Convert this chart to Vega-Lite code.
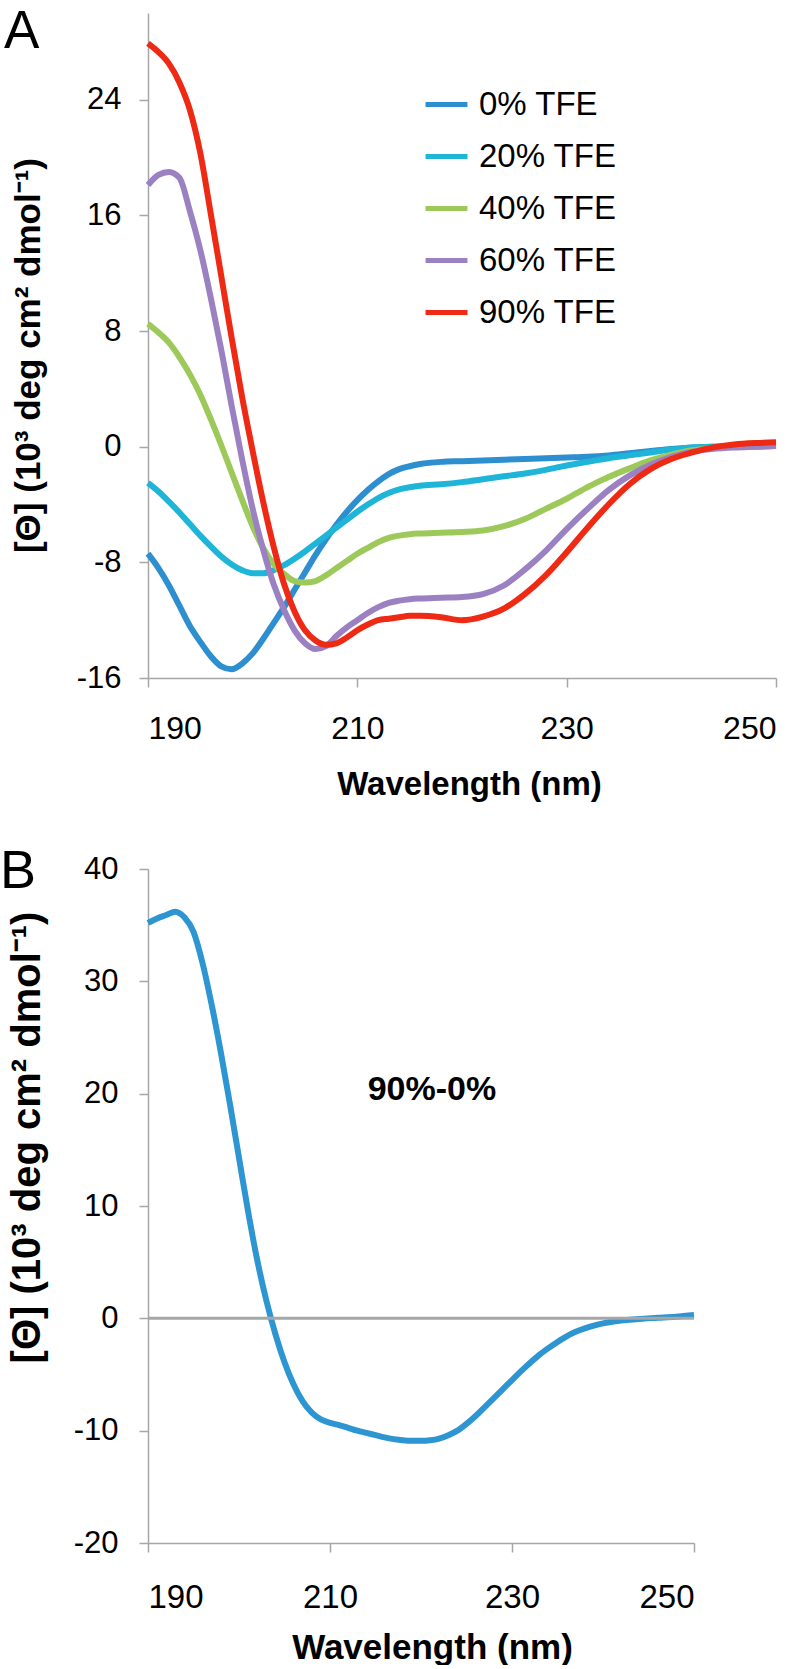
{
  "$schema": "https://vega.github.io/schema/vega-lite/v6.json",
  "background": "white",
  "padding": {"left": 0, "top": 6, "right": 0, "bottom": 0},
  "config": {
    "view": {"stroke": null},
    "font": "Liberation Sans",
    "axis": {
      "grid": false,
      "domainColor": "#a6a6a6",
      "domainWidth": 1.5,
      "tickColor": "#a6a6a6",
      "tickWidth": 1.5,
      "tickSize": 9,
      "labelColor": "#000000",
      "titleColor": "#000000",
      "labelFont": "Liberation Sans",
      "titleFont": "Liberation Sans",
      "titleFontWeight": "bold",
      "labelExpr": "replace(datum.label, '−', '-')"
    }
  },
  "columns": 1,
  "align": "none",
  "spacing": 44,
  "concat": [
    {
      "width": 628,
      "height": 665,
      "layer": [
        {
          "data": {"values": [
            {"series":"0% TFE","wavelength":190,"theta":-7.4},{"series":"0% TFE","wavelength":191,"theta":-8.4},{"series":"0% TFE","wavelength":192,"theta":-9.6},{"series":"0% TFE","wavelength":193,"theta":-11.0},{"series":"0% TFE","wavelength":194,"theta":-12.4},{"series":"0% TFE","wavelength":195,"theta":-13.5},{"series":"0% TFE","wavelength":196,"theta":-14.5},{"series":"0% TFE","wavelength":197,"theta":-15.2},{"series":"0% TFE","wavelength":198,"theta":-15.4},{"series":"0% TFE","wavelength":199,"theta":-15.0},{"series":"0% TFE","wavelength":200,"theta":-14.3},{"series":"0% TFE","wavelength":201,"theta":-13.3},{"series":"0% TFE","wavelength":202,"theta":-12.2},{"series":"0% TFE","wavelength":203,"theta":-11.1},{"series":"0% TFE","wavelength":204,"theta":-9.9},{"series":"0% TFE","wavelength":205,"theta":-8.7},{"series":"0% TFE","wavelength":206,"theta":-7.5},{"series":"0% TFE","wavelength":207,"theta":-6.4},{"series":"0% TFE","wavelength":208,"theta":-5.4},{"series":"0% TFE","wavelength":209,"theta":-4.5},{"series":"0% TFE","wavelength":210,"theta":-3.7},{"series":"0% TFE","wavelength":211,"theta":-3.0},{"series":"0% TFE","wavelength":212,"theta":-2.4},{"series":"0% TFE","wavelength":213,"theta":-1.9},{"series":"0% TFE","wavelength":214,"theta":-1.55},{"series":"0% TFE","wavelength":215,"theta":-1.35},{"series":"0% TFE","wavelength":216,"theta":-1.2},{"series":"0% TFE","wavelength":218,"theta":-1.05},{"series":"0% TFE","wavelength":220,"theta":-1.0},{"series":"0% TFE","wavelength":222,"theta":-0.95},{"series":"0% TFE","wavelength":224,"theta":-0.9},{"series":"0% TFE","wavelength":226,"theta":-0.85},{"series":"0% TFE","wavelength":228,"theta":-0.8},{"series":"0% TFE","wavelength":230,"theta":-0.75},{"series":"0% TFE","wavelength":232,"theta":-0.7},{"series":"0% TFE","wavelength":234,"theta":-0.6},{"series":"0% TFE","wavelength":236,"theta":-0.45},{"series":"0% TFE","wavelength":238,"theta":-0.3},{"series":"0% TFE","wavelength":240,"theta":-0.15},{"series":"0% TFE","wavelength":242,"theta":-0.05},{"series":"0% TFE","wavelength":244,"theta":0.0},{"series":"0% TFE","wavelength":246,"theta":0.05},{"series":"0% TFE","wavelength":248,"theta":0.1},{"series":"0% TFE","wavelength":250,"theta":0.15},
            {"series":"20% TFE","wavelength":190,"theta":-2.5},{"series":"20% TFE","wavelength":191,"theta":-3.1},{"series":"20% TFE","wavelength":192,"theta":-3.8},{"series":"20% TFE","wavelength":193,"theta":-4.55},{"series":"20% TFE","wavelength":194,"theta":-5.35},{"series":"20% TFE","wavelength":195,"theta":-6.15},{"series":"20% TFE","wavelength":196,"theta":-6.9},{"series":"20% TFE","wavelength":197,"theta":-7.6},{"series":"20% TFE","wavelength":198,"theta":-8.15},{"series":"20% TFE","wavelength":199,"theta":-8.55},{"series":"20% TFE","wavelength":200,"theta":-8.75},{"series":"20% TFE","wavelength":201,"theta":-8.75},{"series":"20% TFE","wavelength":202,"theta":-8.55},{"series":"20% TFE","wavelength":203,"theta":-8.2},{"series":"20% TFE","wavelength":204,"theta":-7.75},{"series":"20% TFE","wavelength":205,"theta":-7.25},{"series":"20% TFE","wavelength":206,"theta":-6.7},{"series":"20% TFE","wavelength":207,"theta":-6.15},{"series":"20% TFE","wavelength":208,"theta":-5.6},{"series":"20% TFE","wavelength":209,"theta":-5.05},{"series":"20% TFE","wavelength":210,"theta":-4.5},{"series":"20% TFE","wavelength":211,"theta":-4.0},{"series":"20% TFE","wavelength":212,"theta":-3.55},{"series":"20% TFE","wavelength":213,"theta":-3.2},{"series":"20% TFE","wavelength":214,"theta":-2.95},{"series":"20% TFE","wavelength":215,"theta":-2.8},{"series":"20% TFE","wavelength":216,"theta":-2.7},{"series":"20% TFE","wavelength":218,"theta":-2.6},{"series":"20% TFE","wavelength":220,"theta":-2.45},{"series":"20% TFE","wavelength":222,"theta":-2.25},{"series":"20% TFE","wavelength":224,"theta":-2.05},{"series":"20% TFE","wavelength":226,"theta":-1.85},{"series":"20% TFE","wavelength":228,"theta":-1.6},{"series":"20% TFE","wavelength":230,"theta":-1.3},{"series":"20% TFE","wavelength":232,"theta":-1.05},{"series":"20% TFE","wavelength":234,"theta":-0.8},{"series":"20% TFE","wavelength":236,"theta":-0.6},{"series":"20% TFE","wavelength":238,"theta":-0.4},{"series":"20% TFE","wavelength":240,"theta":-0.2},{"series":"20% TFE","wavelength":242,"theta":-0.05},{"series":"20% TFE","wavelength":244,"theta":0.0},{"series":"20% TFE","wavelength":246,"theta":0.0},{"series":"20% TFE","wavelength":248,"theta":0.02},{"series":"20% TFE","wavelength":250,"theta":0.05},
            {"series":"40% TFE","wavelength":190,"theta":8.5},{"series":"40% TFE","wavelength":191,"theta":7.9},{"series":"40% TFE","wavelength":192,"theta":7.2},{"series":"40% TFE","wavelength":193,"theta":6.2},{"series":"40% TFE","wavelength":194,"theta":5.0},{"series":"40% TFE","wavelength":195,"theta":3.6},{"series":"40% TFE","wavelength":196,"theta":1.9},{"series":"40% TFE","wavelength":197,"theta":0.1},{"series":"40% TFE","wavelength":198,"theta":-1.8},{"series":"40% TFE","wavelength":199,"theta":-3.7},{"series":"40% TFE","wavelength":200,"theta":-5.5},{"series":"40% TFE","wavelength":201,"theta":-7.0},{"series":"40% TFE","wavelength":202,"theta":-8.1},{"series":"40% TFE","wavelength":203,"theta":-8.8},{"series":"40% TFE","wavelength":204,"theta":-9.3},{"series":"40% TFE","wavelength":205,"theta":-9.4},{"series":"40% TFE","wavelength":206,"theta":-9.3},{"series":"40% TFE","wavelength":207,"theta":-8.9},{"series":"40% TFE","wavelength":208,"theta":-8.4},{"series":"40% TFE","wavelength":209,"theta":-7.9},{"series":"40% TFE","wavelength":210,"theta":-7.4},{"series":"40% TFE","wavelength":211,"theta":-7.0},{"series":"40% TFE","wavelength":212,"theta":-6.6},{"series":"40% TFE","wavelength":213,"theta":-6.3},{"series":"40% TFE","wavelength":214,"theta":-6.15},{"series":"40% TFE","wavelength":215,"theta":-6.05},{"series":"40% TFE","wavelength":216,"theta":-6.0},{"series":"40% TFE","wavelength":218,"theta":-5.95},{"series":"40% TFE","wavelength":220,"theta":-5.9},{"series":"40% TFE","wavelength":222,"theta":-5.8},{"series":"40% TFE","wavelength":224,"theta":-5.5},{"series":"40% TFE","wavelength":226,"theta":-5.0},{"series":"40% TFE","wavelength":228,"theta":-4.3},{"series":"40% TFE","wavelength":230,"theta":-3.6},{"series":"40% TFE","wavelength":232,"theta":-2.8},{"series":"40% TFE","wavelength":234,"theta":-2.1},{"series":"40% TFE","wavelength":236,"theta":-1.5},{"series":"40% TFE","wavelength":238,"theta":-0.95},{"series":"40% TFE","wavelength":240,"theta":-0.55},{"series":"40% TFE","wavelength":242,"theta":-0.25},{"series":"40% TFE","wavelength":244,"theta":-0.1},{"series":"40% TFE","wavelength":246,"theta":0.0},{"series":"40% TFE","wavelength":248,"theta":0.0},{"series":"40% TFE","wavelength":250,"theta":0.05},
            {"series":"60% TFE","wavelength":190,"theta":18.1},{"series":"60% TFE","wavelength":191,"theta":18.8},{"series":"60% TFE","wavelength":192,"theta":19.0},{"series":"60% TFE","wavelength":193,"theta":18.6},{"series":"60% TFE","wavelength":194,"theta":16.3},{"series":"60% TFE","wavelength":195,"theta":13.6},{"series":"60% TFE","wavelength":196,"theta":10.3},{"series":"60% TFE","wavelength":197,"theta":6.7},{"series":"60% TFE","wavelength":198,"theta":2.8},{"series":"60% TFE","wavelength":199,"theta":-0.9},{"series":"60% TFE","wavelength":200,"theta":-4.3},{"series":"60% TFE","wavelength":201,"theta":-7.1},{"series":"60% TFE","wavelength":202,"theta":-9.5},{"series":"60% TFE","wavelength":203,"theta":-11.3},{"series":"60% TFE","wavelength":204,"theta":-12.7},{"series":"60% TFE","wavelength":205,"theta":-13.6},{"series":"60% TFE","wavelength":206,"theta":-14.0},{"series":"60% TFE","wavelength":207,"theta":-13.8},{"series":"60% TFE","wavelength":208,"theta":-13.1},{"series":"60% TFE","wavelength":209,"theta":-12.5},{"series":"60% TFE","wavelength":210,"theta":-12.0},{"series":"60% TFE","wavelength":211,"theta":-11.5},{"series":"60% TFE","wavelength":212,"theta":-11.1},{"series":"60% TFE","wavelength":213,"theta":-10.8},{"series":"60% TFE","wavelength":214,"theta":-10.65},{"series":"60% TFE","wavelength":215,"theta":-10.55},{"series":"60% TFE","wavelength":216,"theta":-10.5},{"series":"60% TFE","wavelength":218,"theta":-10.45},{"series":"60% TFE","wavelength":220,"theta":-10.4},{"series":"60% TFE","wavelength":222,"theta":-10.2},{"series":"60% TFE","wavelength":224,"theta":-9.6},{"series":"60% TFE","wavelength":226,"theta":-8.5},{"series":"60% TFE","wavelength":228,"theta":-7.2},{"series":"60% TFE","wavelength":230,"theta":-5.7},{"series":"60% TFE","wavelength":232,"theta":-4.3},{"series":"60% TFE","wavelength":234,"theta":-3.0},{"series":"60% TFE","wavelength":236,"theta":-2.0},{"series":"60% TFE","wavelength":238,"theta":-1.25},{"series":"60% TFE","wavelength":240,"theta":-0.7},{"series":"60% TFE","wavelength":242,"theta":-0.35},{"series":"60% TFE","wavelength":244,"theta":-0.15},{"series":"60% TFE","wavelength":246,"theta":-0.05},{"series":"60% TFE","wavelength":248,"theta":0.0},{"series":"60% TFE","wavelength":250,"theta":0.05},
            {"series":"90% TFE","wavelength":190,"theta":27.9},{"series":"90% TFE","wavelength":191,"theta":27.3},{"series":"90% TFE","wavelength":192,"theta":26.5},{"series":"90% TFE","wavelength":193,"theta":25.2},{"series":"90% TFE","wavelength":194,"theta":23.3},{"series":"90% TFE","wavelength":195,"theta":20.3},{"series":"90% TFE","wavelength":196,"theta":16.1},{"series":"90% TFE","wavelength":197,"theta":11.8},{"series":"90% TFE","wavelength":198,"theta":7.5},{"series":"90% TFE","wavelength":199,"theta":3.4},{"series":"90% TFE","wavelength":200,"theta":-0.3},{"series":"90% TFE","wavelength":201,"theta":-3.8},{"series":"90% TFE","wavelength":202,"theta":-6.9},{"series":"90% TFE","wavelength":203,"theta":-9.5},{"series":"90% TFE","wavelength":204,"theta":-11.4},{"series":"90% TFE","wavelength":205,"theta":-12.7},{"series":"90% TFE","wavelength":206,"theta":-13.4},{"series":"90% TFE","wavelength":207,"theta":-13.7},{"series":"90% TFE","wavelength":208,"theta":-13.6},{"series":"90% TFE","wavelength":209,"theta":-13.2},{"series":"90% TFE","wavelength":210,"theta":-12.7},{"series":"90% TFE","wavelength":211,"theta":-12.3},{"series":"90% TFE","wavelength":212,"theta":-12.0},{"series":"90% TFE","wavelength":213,"theta":-11.9},{"series":"90% TFE","wavelength":214,"theta":-11.8},{"series":"90% TFE","wavelength":215,"theta":-11.7},{"series":"90% TFE","wavelength":216,"theta":-11.7},{"series":"90% TFE","wavelength":218,"theta":-11.8},{"series":"90% TFE","wavelength":220,"theta":-12.0},{"series":"90% TFE","wavelength":222,"theta":-11.75},{"series":"90% TFE","wavelength":224,"theta":-11.2},{"series":"90% TFE","wavelength":226,"theta":-10.2},{"series":"90% TFE","wavelength":228,"theta":-8.9},{"series":"90% TFE","wavelength":230,"theta":-7.3},{"series":"90% TFE","wavelength":232,"theta":-5.6},{"series":"90% TFE","wavelength":234,"theta":-4.0},{"series":"90% TFE","wavelength":236,"theta":-2.6},{"series":"90% TFE","wavelength":238,"theta":-1.55},{"series":"90% TFE","wavelength":240,"theta":-0.85},{"series":"90% TFE","wavelength":242,"theta":-0.4},{"series":"90% TFE","wavelength":244,"theta":-0.05},{"series":"90% TFE","wavelength":246,"theta":0.15},{"series":"90% TFE","wavelength":248,"theta":0.25},{"series":"90% TFE","wavelength":250,"theta":0.3}
          ]},
          "mark": {"type": "line", "strokeWidth": 6, "interpolate": "monotone"},
          "encoding": {
            "x": {
              "field": "wavelength", "type": "quantitative",
              "scale": {"domain": [190, 250], "nice": false, "zero": false},
              "axis": {"values": [190, 210, 230, 250], "title": "Wavelength (nm)", "labelFontSize": 32, "labelPadding": 26, "titleFontSize": 33, "titleY": 90, "titleX": 321, "titleBaseline": "top"}
            },
            "y": {
              "field": "theta", "type": "quantitative",
              "scale": {"domain": [-16, 30], "nice": false, "zero": false},
              "axis": {"values": [-16, -8, 0, 8, 16, 24], "title": "[Θ] (10³ deg cm² dmol⁻¹)", "labelFontSize": 31, "labelPadding": 18, "titleFontSize": 35, "titleX": -109, "titleY": 342, "titleAngle": -90, "titleBaseline": "alphabetic", "titleAlign": "center"}
            },
            "color": {
              "field": "series", "type": "nominal",
              "scale": {"domain": ["0% TFE", "20% TFE", "40% TFE", "60% TFE", "90% TFE"], "range": ["#2D8FCF", "#1EB5D8", "#9DC95B", "#9B80C2", "#EE2A14"]},
              "legend": {"orient": "none", "legendX": 275, "legendY": 68, "title": null, "symbolType": "stroke", "symbolStrokeWidth": 5, "symbolSize": 1760, "labelFontSize": 33, "labelOffset": 9, "rowPadding": 11, "padding": 0, "labelColor": "#000000", "labelFont": "Liberation Sans"}
            }
          }
        },
        {
          "data": {"values": [{}]},
          "mark": {"type": "text", "text": "A", "fontSize": 53, "font": "Liberation Sans", "align": "left", "baseline": "alphabetic", "dx": -144, "dy": 35, "color": "#000000"},
          "encoding": {"x": {"datum": 190}, "y": {"datum": 30}}
        }
      ]
    },
    {
      "width": 546,
      "height": 674,
      "layer": [
        {
          "data": {"values": [
            {"wavelength":190,"theta":35.2},{"wavelength":191,"theta":35.6},{"wavelength":192,"theta":35.9},{"wavelength":193,"theta":36.2},{"wavelength":194,"theta":35.7},{"wavelength":195,"theta":34.4},{"wavelength":196,"theta":31.6},{"wavelength":197,"theta":27.9},{"wavelength":198,"theta":23.7},{"wavelength":199,"theta":19.1},{"wavelength":200,"theta":14.3},{"wavelength":201,"theta":9.5},{"wavelength":202,"theta":5.2},{"wavelength":203,"theta":1.6},{"wavelength":204,"theta":-1.4},{"wavelength":205,"theta":-3.9},{"wavelength":206,"theta":-5.9},{"wavelength":207,"theta":-7.4},{"wavelength":208,"theta":-8.4},{"wavelength":209,"theta":-9.0},{"wavelength":210,"theta":-9.3},{"wavelength":211,"theta":-9.5},{"wavelength":212,"theta":-9.75},{"wavelength":213,"theta":-10.0},{"wavelength":214,"theta":-10.2},{"wavelength":215,"theta":-10.4},{"wavelength":216,"theta":-10.6},{"wavelength":217,"theta":-10.75},{"wavelength":218,"theta":-10.85},{"wavelength":219,"theta":-10.9},{"wavelength":220,"theta":-10.9},{"wavelength":221,"theta":-10.85},{"wavelength":222,"theta":-10.7},{"wavelength":223,"theta":-10.4},{"wavelength":224,"theta":-10.0},{"wavelength":225,"theta":-9.4},{"wavelength":226,"theta":-8.7},{"wavelength":227,"theta":-7.9},{"wavelength":228,"theta":-7.1},{"wavelength":229,"theta":-6.3},{"wavelength":230,"theta":-5.5},{"wavelength":231,"theta":-4.7},{"wavelength":232,"theta":-3.95},{"wavelength":233,"theta":-3.25},{"wavelength":234,"theta":-2.65},{"wavelength":235,"theta":-2.1},{"wavelength":236,"theta":-1.6},{"wavelength":237,"theta":-1.2},{"wavelength":238,"theta":-0.9},{"wavelength":239,"theta":-0.65},{"wavelength":240,"theta":-0.45},{"wavelength":241,"theta":-0.3},{"wavelength":242,"theta":-0.2},{"wavelength":244,"theta":-0.05},{"wavelength":246,"theta":0.05},{"wavelength":248,"theta":0.15},{"wavelength":250,"theta":0.3}
          ]},
          "mark": {"type": "line", "strokeWidth": 6, "interpolate": "monotone", "color": "#2E95D3"},
          "encoding": {
            "x": {
              "field": "wavelength", "type": "quantitative",
              "scale": {"domain": [190, 250], "nice": false, "zero": false},
              "axis": {"values": [190, 210, 230, 250], "title": "Wavelength (nm)", "labelFontSize": 33, "labelPadding": 29, "titleFontSize": 35, "titleY": 87, "titleX": 284, "titleBaseline": "top"}
            },
            "y": {
              "field": "theta", "type": "quantitative",
              "scale": {"domain": [-20, 40], "nice": false, "zero": false},
              "axis": {"values": [-20, -10, 0, 10, 20, 30, 40], "title": "[Θ] (10³ deg cm² dmol⁻¹)", "labelFontSize": 31, "labelPadding": 21, "titleFontSize": 40, "titleX": -109, "titleY": 268, "titleAngle": -90, "titleBaseline": "alphabetic", "titleAlign": "center"}
            }
          }
        },
        {
          "data": {"values": [{}]},
          "mark": {"type": "rule", "color": "#a6a6a6", "strokeWidth": 3},
          "encoding": {"y": {"datum": 0}}
        },
        {
          "data": {"values": [{}]},
          "mark": {"type": "text", "text": "90%-0%", "fontSize": 34, "fontWeight": "bold", "font": "Liberation Sans", "align": "center", "baseline": "middle", "color": "#000000"},
          "encoding": {"x": {"datum": 221.2}, "y": {"datum": 20.3}}
        },
        {
          "data": {"values": [{}]},
          "mark": {"type": "text", "text": "B", "fontSize": 54, "font": "Liberation Sans", "align": "left", "baseline": "alphabetic", "dx": -148, "dy": 19, "color": "#000000"},
          "encoding": {"x": {"datum": 190}, "y": {"datum": 40}}
        }
      ]
    }
  ]
}
